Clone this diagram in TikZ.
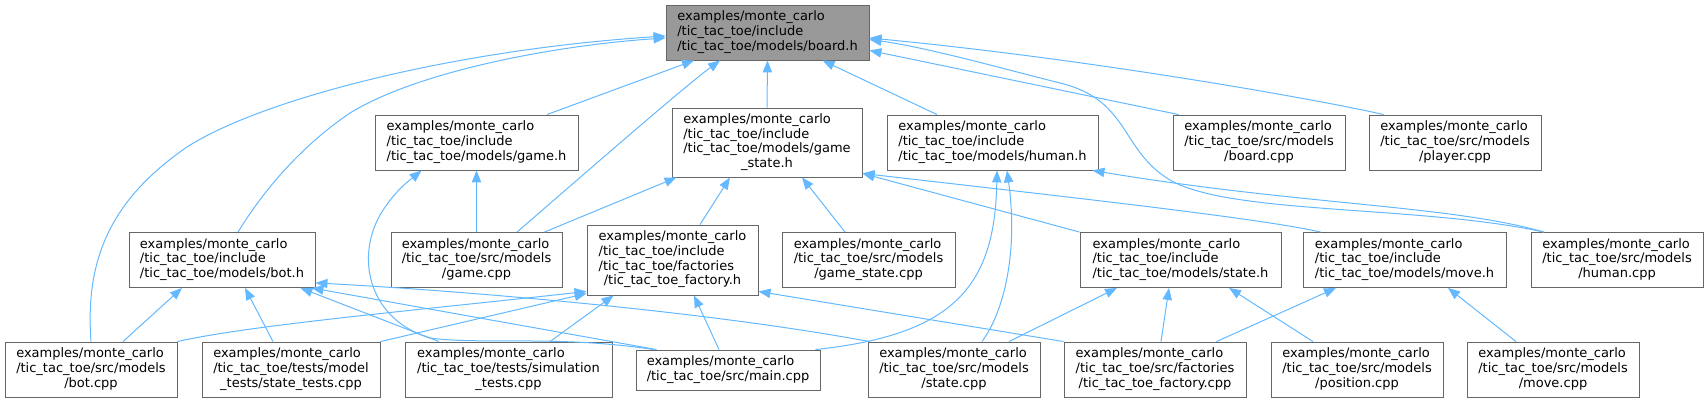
\documentclass[tikz,border=0pt]{standalone}
\usepackage{fontspec}
\setmainfont{DejaVu Sans}
\usetikzlibrary{arrows.meta,calc}
\definecolor{edgeblue}{HTML}{63B8FF}
\definecolor{boxgray}{HTML}{666666}
\definecolor{headgray}{HTML}{999999}
% all lines left, last line centred
\newcommand{\flines}[2]{\begin{tabular}{@{}l@{}}#1\\\multicolumn{1}{@{}c@{}}{#2}\end{tabular}}
\tikzset{
  file/.style={draw=boxgray, fill=white, line width=0.65pt, inner sep=0pt,
    font=\fontsize{9.75}{11}\selectfont},
  mainfile/.style={file, fill=headgray},
  boxsize/.style 2 args={minimum width=#1*0.75pt, minimum height=#2*0.75pt},
  inc/.style={draw=edgeblue, line width=0.75pt, -{Triangle[length=9pt,width=7pt]}}
}
\begin{document}
\begin{tikzpicture}[x=0.75pt,y=-0.75pt]
\useasboundingbox (0,0) rectangle (1708,403);

% Top
\node[mainfile, boxsize={203}{55}] (boardh) at (767.5,32.5)
  {\flines{examples/monte\_carlo\\/tic\_tac\_toe/include}{/tic\_tac\_toe/models/board.h}};

% Row 1
\node[file, boxsize={203}{55}] (gameh) at (476.5,142.5)
  {\flines{examples/monte\_carlo\\/tic\_tac\_toe/include}{/tic\_tac\_toe/models/game.h}};
\node[file, boxsize={190}{69}] (gamestateh) at (767,142.5)
  {\flines{examples/monte\_carlo\\/tic\_tac\_toe/include\\/tic\_tac\_toe/models/game}{\_state.h}};
\node[file, boxsize={211}{55}] (humanh) at (992.5,142.5)
  {\flines{examples/monte\_carlo\\/tic\_tac\_toe/include}{/tic\_tac\_toe/models/human.h}};
\node[file, boxsize={172}{55}] (boardcpp) at (1259,142.5)
  {\flines{examples/monte\_carlo\\/tic\_tac\_toe/src/models}{/board.cpp}};
\node[file, boxsize={172}{55}] (playercpp) at (1455,142.5)
  {\flines{examples/monte\_carlo\\/tic\_tac\_toe/src/models}{/player.cpp}};

% Row 2
\node[file, boxsize={186}{55}] (both) at (222,260)
  {\flines{examples/monte\_carlo\\/tic\_tac\_toe/include}{/tic\_tac\_toe/models/bot.h}};
\node[file, boxsize={171}{55}] (gamecpp) at (476.5,260)
  {\flines{examples/monte\_carlo\\/tic\_tac\_toe/src/models}{/game.cpp}};
\node[file, boxsize={171}{70}] (factoryh) at (672.5,260)
  {\flines{examples/monte\_carlo\\/tic\_tac\_toe/include\\/tic\_tac\_toe/factories}{/tic\_tac\_toe\_factory.h}};
\node[file, boxsize={173}{55}] (gamestatecpp) at (868.5,260)
  {\flines{examples/monte\_carlo\\/tic\_tac\_toe/src/models}{/game\_state.cpp}};
\node[file, boxsize={201}{55}] (stateh) at (1180.5,260)
  {\flines{examples/monte\_carlo\\/tic\_tac\_toe/include}{/tic\_tac\_toe/models/state.h}};
\node[file, boxsize={203}{55}] (moveh) at (1404.5,260)
  {\flines{examples/monte\_carlo\\/tic\_tac\_toe/include}{/tic\_tac\_toe/models/move.h}};
\node[file, boxsize={172}{55}] (humancpp) at (1617,260)
  {\flines{examples/monte\_carlo\\/tic\_tac\_toe/src/models}{/human.cpp}};

% Row 3
\node[file, boxsize={172}{55}] (botcpp) at (91,369.5)
  {\flines{examples/monte\_carlo\\/tic\_tac\_toe/src/models}{/bot.cpp}};
\node[file, boxsize={178}{55}] (statetests) at (291,369.5)
  {\flines{examples/monte\_carlo\\/tic\_tac\_toe/tests/model}{\_tests/state\_tests.cpp}};
\node[file, boxsize={207}{55}] (simtests) at (508.5,369.5)
  {\flines{examples/monte\_carlo\\/tic\_tac\_toe/tests/simulation}{\_tests.cpp}};
\node[file, boxsize={184}{40}] (maincpp) at (728,370)
  {\flines{examples/monte\_carlo}{/tic\_tac\_toe/src/main.cpp}};
\node[file, boxsize={172}{55}] (statecpp) at (954,369.5)
  {\flines{examples/monte\_carlo\\/tic\_tac\_toe/src/models}{/state.cpp}};
\node[file, boxsize={182}{55}] (factorycpp) at (1155,369.5)
  {\flines{examples/monte\_carlo\\/tic\_tac\_toe/src/factories}{/tic\_tac\_toe\_factory.cpp}};
\node[file, boxsize={172}{55}] (positioncpp) at (1357,369.5)
  {\flines{examples/monte\_carlo\\/tic\_tac\_toe/src/models}{/position.cpp}};
\node[file, boxsize={172}{55}] (movecpp) at (1553,369.5)
  {\flines{examples/monte\_carlo\\/tic\_tac\_toe/src/models}{/move.cpp}};

% Includes of board.h
\draw[inc] ($(gameh.north)+(70.5,0)$) -- ($(boardh.south)+(-73.5,0)$);
\draw[inc] (gamestateh.north) -- (boardh.south);
\draw[inc] ($(humanh.north)+(-55.5,0)$) -- ($(boardh.south)+(55,0)$);
\draw[inc] ($(boardcpp.north west)+(6,0)$) -- ($(boardh.south east)+(0,-10)$);
\draw[inc] ($(playercpp.north west)+(15,0)$) .. controls (1330,102) and (1100,60) .. ($(boardh.east)+(0,5.5)$);
\draw[inc] ($(humancpp.north)+(-73,0)$) .. controls (1420,205) and (1230,215) .. (1170,180)
  .. controls (1120,150) and (1130,100) .. (1060,83) .. controls (1000,68) and (930,48) .. ($(boardh.east)+(0,7)$);
\draw[inc] ($(gamecpp.north)+(40.5,0)$) .. controls (560,195) and (680,90) .. ($(boardh.south)+(-47.5,0)$);
\draw[inc] (botcpp.north) .. controls (85,260) and (110,200) .. (187,147)
  .. controls (260,100) and (450,50) .. ($(boardh.west)+(0,3.5)$);
\draw[inc] ($(both.north)+(16,0)$) .. controls (270,180) and (310,140) .. (350,113)
  .. controls (420,70) and (560,45) .. ($(boardh.west)+(0,5.5)$);

% Includes of game.h
\draw[inc] (gamecpp.north) -- (gameh.south);
\draw[inc] ($(maincpp.north west)+(18,0)$) .. controls (560,335) and (480,345) .. (430,338)
  .. controls (370,320) and (355,260) .. (380,215) .. controls (395,190) and (410,180) .. ($(gameh.south west)+(47,0)$);

% Includes of game_state.h
\draw[inc] ($(gamecpp.north east)+(-18,0)$) -- ($(gamestateh.south west)+(5,0)$);
\draw[inc] ($(factoryh.north)+(27.5,0)$) -- ($(gamestateh.south)+(-37,0)$);
\draw[inc] ($(gamestatecpp.north)+(-23.5,0)$) -- ($(gamestateh.south)+(35,0)$);
\draw[inc] (stateh.north west) -- ($(gamestateh.south east)+(0,-4)$);
\draw[inc] ($(moveh.north west)+(18,0)$) .. controls (1260,218) and (1050,195) .. ($(gamestateh.south east)+(0,-4)$);

% Includes of human.h
\draw[inc] ($(statecpp.north)+(28,0)$) .. controls (1005,310) and (1018,250) .. ($(humanh.south)+(14.5,0)$);
\draw[inc] ($(maincpp.north east)+(-5,0)$) .. controls (950,335) and (995,290) .. ($(humanh.south)+(4.5,0)$);
\draw[inc] ($(humancpp.north)+(-73,0)$) .. controls (1450,205) and (1300,205) .. ($(humanh.south east)+(-6,0)$);

% Includes of bot.h
\draw[inc] ($(botcpp.north)+(32,0)$) -- ($(both.south)+(-40,0)$);
\draw[inc] ($(statetests.north)+(-18,0)$) -- ($(both.south)+(23,0)$);
\draw[inc] ($(simtests.north)+(-69.5,0)$) -- ($(both.south east)+(-15,0)$);
\draw[inc] ($(maincpp.north west)+(21,0)$) -- ($(both.south east)+(-4,0)$);
\draw[inc] ($(statecpp.north west)+(2,0)$) .. controls (700,310) and (450,290) .. ($(both.south east)+(0,-5)$);

% Includes of tic_tac_toe_factory.h
\draw[inc] (botcpp.north east) .. controls (250,325) and (420,310) .. ($(factoryh.south west)+(0,-4)$);
\draw[inc] (statetests.north east) -- ($(factoryh.south west)+(0,-2)$);
\draw[inc] ($(simtests.north)+(41.5,0)$) -- ($(factoryh.south west)+(27,0)$);
\draw[inc] ($(maincpp.north)+(-9,0)$) -- ($(factoryh.south)+(21.5,0)$);
\draw[inc] (factorycpp.north west) -- ($(factoryh.south east)+(0,-4)$);

% Includes of state.h
\draw[inc] ($(statecpp.north)+(55,0)$) -- ($(stateh.south)+(-63.5,0)$);
\draw[inc] ($(factorycpp.north)+(6,0)$) -- ($(stateh.south)+(-11.5,0)$);
\draw[inc] ($(positioncpp.north)+(-44,0)$) -- ($(stateh.south)+(48.5,0)$);

% Includes of move.h
\draw[inc] ($(factorycpp.north east)+(-30,0)$) -- ($(moveh.south)+(-68.5,0)$);
\draw[inc] ($(movecpp.north)+(-37,0)$) -- ($(moveh.south)+(43.5,0)$);

\end{tikzpicture}
\end{document}
